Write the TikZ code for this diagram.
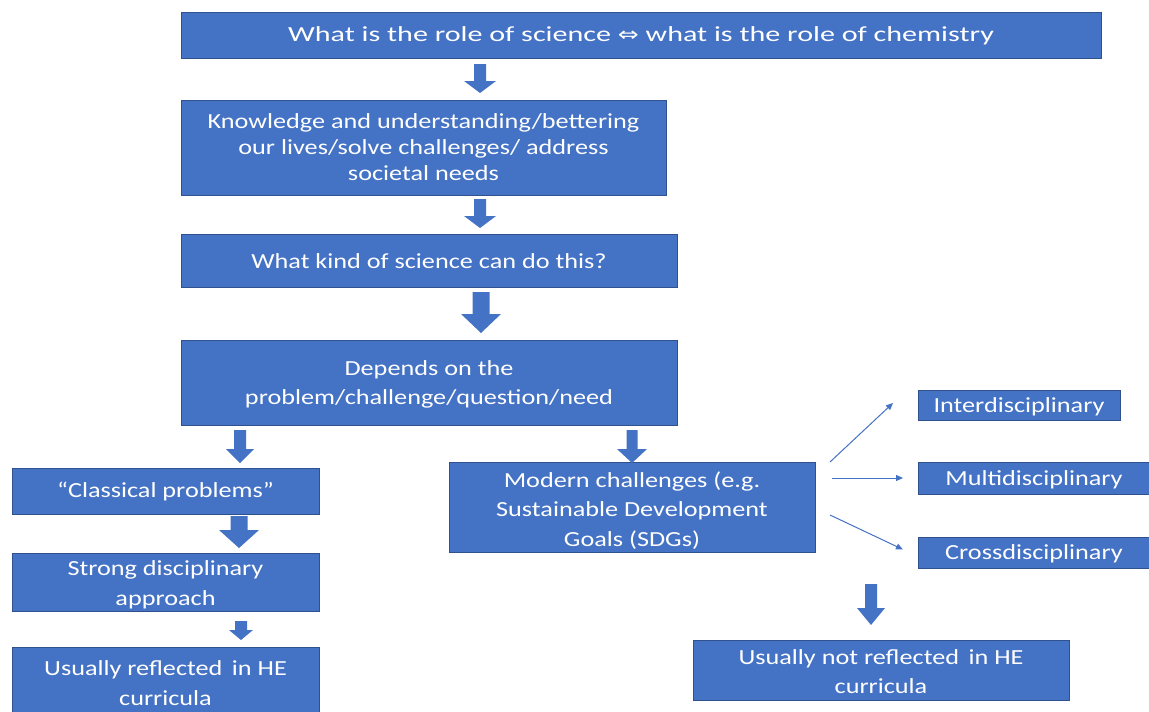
\documentclass[tikz,border=0pt]{standalone}
\usepackage{fontspec}
\setmainfont{Carlito}[FakeStretch=1.22]
\newfontfamily\topfont{Carlito}[FakeStretch=1.40]
\newfontfamily\symfont{DejaVu Sans}[FakeStretch=1.25]
\usetikzlibrary{arrows.meta,calc}
\definecolor{boxblue}{HTML}{4472C4}
\definecolor{edgeblue}{HTML}{2F528F}
\newcommand\blockarrow[6]{% x, ytop, ybot, shaft half width, head half width, head height
  \fill[boxblue] (#1-#4,#2) -- (#1+#4,#2) -- (#1+#4,#3-#6) -- (#1+#5,#3-#6) -- (#1,#3)
    -- (#1-#5,#3-#6) -- (#1-#4,#3-#6) -- cycle;}
\begin{document}
\begin{tikzpicture}[x=1pt,y=-1pt,
  box/.style={draw=edgeblue, fill=boxblue, line width=0.8pt, inner sep=0pt, outer sep=0pt,
    text=white, align=center, font=\fontsize{21.5}{29.5}\selectfont},
  txt/.style={inner sep=0pt, text=white, align=center, font=\fontsize{21.5}{29.5}\selectfont},
  tightbox/.style={box, font=\fontsize{21.5}{26}\selectfont},
  thinarrow/.style={draw=boxblue, line width=1pt, -{Triangle[length=7pt,width=6pt]}}]
\useasboundingbox (0,0) rectangle (1149,712);
\fill[white] (0,0) rectangle (1149,712);

\node[box, minimum width=920pt, minimum height=46pt, font=\topfont\fontsize{21.5}{26}\selectfont] (q) at (641,35.5)
  {What is the role of science {\symfont\fontsize{20}{20}\selectfont ⇔} what is the role of chemistry};
\node[tightbox, minimum width=485pt, minimum height=95pt] (k) at (423.5,147.5)
  {Knowledge and understanding/bettering\\our lives/solve challenges/ address\\societal needs};
\node[box, minimum width=496pt, minimum height=53pt] (w) at (429,261)
  {What kind of science can do this?};
\node[box, minimum width=496pt, minimum height=85pt] (d) at (429,383)
  {};
\node[txt] (dt) at ([yshift=-1.5pt]d.center) {Depends on the\\problem/challenge/question/need};
\node[box, minimum width=307pt, minimum height=46pt] (c) at (165.5,491)
  {“Classical problems”};
\node[box, minimum width=307pt, minimum height=58pt] (s) at (165.5,582) {};
\node[txt] (st) at ([yshift=-3pt]s.center) {Strong disciplinary\\approach};
\node[box, minimum width=307pt, minimum height=66pt] (u) at (165.5,680) {};
\node[txt] (ut) at ([yshift=-3pt]u.center) {Usually reflected\, in HE\\curricula};
\node[box, minimum width=366pt, minimum height=90pt] (mod) at (632,507) {};
\node[txt] (modt) at ([yshift=-3.5pt]mod.center)
  {Modern challenges (e.g.\\Sustainable Development\\Goals (SDGs)};
\node[box, minimum width=202pt, minimum height=30pt] (inter) at (1019,405) {};
\node[txt] (intert) at ([yshift=-1.5pt]inter.center) {Interdisciplinary};
\node[box, minimum width=232pt, minimum height=32pt] (multi) at (1034,478) {};
\node[txt] (multit) at ([yshift=-1.5pt]multi.center) {Multidisciplinary};
\node[box, minimum width=232pt, minimum height=31pt] (cross) at (1034,552.5) {};
\node[txt] (crosst) at ([yshift=-1pt]cross.center) {Crossdisciplinary};
\node[box, minimum width=376pt, minimum height=60pt] (n) at (881,670) {};
\node[txt] (nt) at ([yshift=-1.5pt]n.center) {Usually not reflected\, in HE\\curricula};

% block arrows
\blockarrow{480}{64}{93}{6}{16}{12}
\blockarrow{480}{199}{228}{6}{16}{12}
\blockarrow{481}{292}{333}{8.5}{20}{19}
\blockarrow{240}{430}{463}{6}{14}{14}
\blockarrow{632}{430}{463}{5.5}{15}{14}
\blockarrow{239}{516}{548}{8.5}{20}{18}
\blockarrow{241}{621}{640}{6}{12}{10}
\blockarrow{871}{584}{625}{6}{14}{17}

% thin arrows
\draw[thinarrow] ($(mod.north east)+(15,0)$) -- ($(inter.west)+(-25,-2)$);
\draw[thinarrow] ($(mod.east)+(17,-29)$) -- ($(multi.west)+(-15,0)$);
\draw[thinarrow] ($(mod.east)+(15,8)$) -- ($(cross.west)+(-15,-3)$);
\end{tikzpicture}
\end{document}
